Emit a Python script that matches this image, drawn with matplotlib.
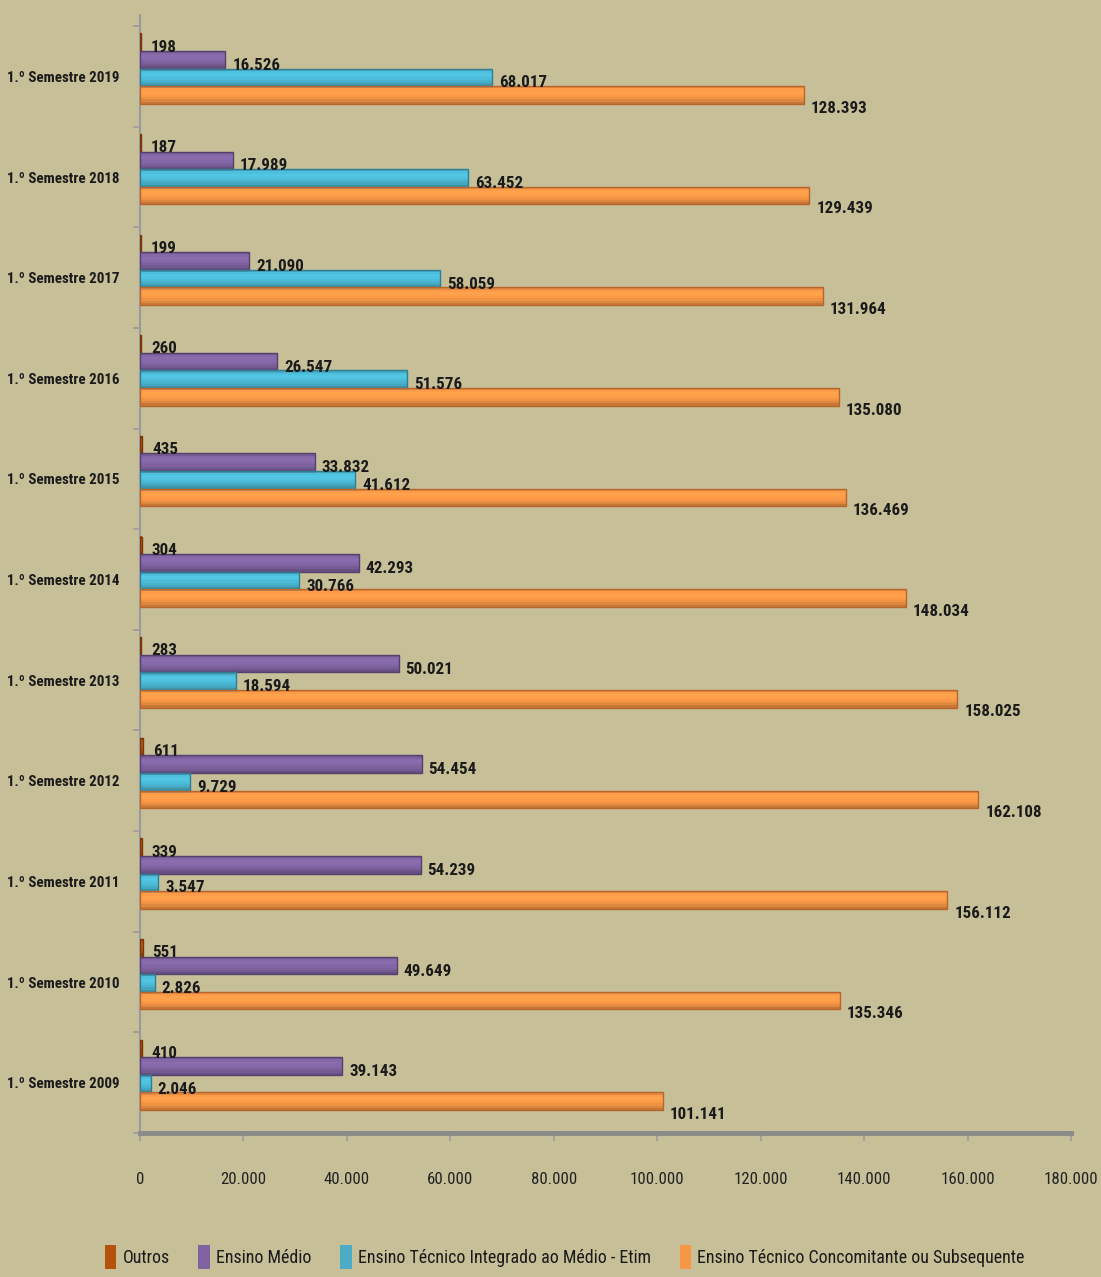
import matplotlib
matplotlib.use("Agg")
import matplotlib.pyplot as plt
from matplotlib import font_manager
from matplotlib.font_manager import FontProperties
from matplotlib.textpath import TextPath
from matplotlib.patches import Patch
from matplotlib.colors import to_rgb
import numpy as np

# data (top to bottom: 2019 ... 2009)
semestres = ["1.º Semestre 2019", "1.º Semestre 2018", "1.º Semestre 2017",
             "1.º Semestre 2016", "1.º Semestre 2015", "1.º Semestre 2014",
             "1.º Semestre 2013", "1.º Semestre 2012", "1.º Semestre 2011",
             "1.º Semestre 2010", "1.º Semestre 2009"]
outros = [198, 187, 199, 260, 435, 304, 283, 611, 339, 551, 410]
ensino_medio = [16526, 17989, 21090, 26547, 33832, 42293, 50021, 54454, 54239, 49649, 39143]
etim = [68017, 63452, 58059, 51576, 41612, 30766, 18594, 9729, 3547, 2826, 2046]
concomitante = [128393, 129439, 131964, 135080, 136469, 148034, 158025, 162108, 156112, 135346, 101141]
x_ticks = [0, 20000, 40000, 60000, 80000, 100000, 120000, 140000, 160000, 180000]

series_names = ["Outros", "Ensino Médio", "Ensino Técnico Integrado ao Médio - Etim",
                "Ensino Técnico Concomitante ou Subsequente"]
series_vals = [outros, ensino_medio, etim, concomitante]
colors = ["#b5520c", "#8064a2", "#4bb8d4", "#f79646"]
edges = ["#7a3608", "#55406f", "#2f7f94", "#b8642a"]
legend_colors = ["#b5520c", "#8064a2", "#4bacc6", "#f79646"]


def pick_font():
    # prefer a narrow/condensed family if there is one
    names = set()
    for f in font_manager.fontManager.ttflist:
        low = f.name.lower()
        if "narrow" in low or "condensed" in low:
            names.add((f.name, "normal"))
        elif f.stretch in ("condensed", "semi-condensed", "extra-condensed",
                           "ultra-condensed"):
            names.add((f.name, f.stretch))
    for pref in ["Liberation Sans Narrow", "Roboto Condensed", "Open Sans Condensed",
                 "Noto Sans Condensed", "DejaVu Sans Condensed"]:
        for nm, st in names:
            if nm == pref:
                return nm, st
    if names:
        return sorted(names)[0]
    return "Liberation Sans", "normal"


FONT, STRETCH = pick_font()
plt.rcParams["font.family"] = [FONT, "DejaVu Sans"]
plt.rcParams["font.stretch"] = STRETCH


def fit_size(text, target_px, weight="normal", max_pt=20):
    fp = FontProperties(family=FONT, stretch=STRETCH, weight=weight, size=10)
    w = TextPath((0, 0), text, size=10, prop=fp).get_extents().width
    size = 10 * target_px / (w * 100 / 72)
    return min(size, max_pt)


cat_size = fit_size("1.º Semestre 2019", 111, "bold", 15)
val_size = fit_size("16.526", 46, "bold", 15)
tick_size = fit_size("20.000", 44, "normal", 14)
leg_size = fit_size("Ensino Médio", 93, "normal", 18)

BG = "#c6bf98"
fig = plt.figure(figsize=(11.01, 12.77), dpi=100, facecolor=BG)
ax = fig.add_axes([140 / 1101, 1 - 1133 / 1277, 931 / 1101, 1118 / 1277])
ax.set_facecolor(BG)

n = len(semestres)
y = np.arange(n)[::-1]  # 2019 at top
h = 0.175
offsets = [0.34, 0.165, -0.01, -0.185]
# label offsets in points (dx, dy)
lab_off = [(7, -3.5), (5, -4), (5, -4), (5, -9.5)]
# brightness profile of the "cylinder" from top to bottom
profile = [0.92, 1.04, 1.08, 1.06, 1.02, 0.97, 0.9, 0.8]
ns = len(profile)

for i, (vals, off) in enumerate(zip(series_vals, offsets)):
    yy = y + off
    base = np.array(to_rgb(colors[i]))
    for k, fct in enumerate(profile):
        c = np.clip(base * fct, 0, 1)
        yc = yy + h / 2 - (k + 0.5) * h / ns
        ax.barh(yc, vals, height=h / ns * 1.05, color=c, linewidth=0, zorder=3)
    ax.barh(yy, vals, height=h, facecolor="none", edgecolor=edges[i],
            linewidth=1.0, zorder=3.2)
    for yv, v in zip(yy, vals):
        ax.annotate(f"{v:,}".replace(",", "."), xy=(v, yv),
                    xytext=lab_off[i], textcoords="offset points",
                    ha="left", va="center", fontsize=val_size, fontweight="bold",
                    color="#1a1a1a", zorder=4)

ax.set_xlim(0, 180000)
ax.set_ylim(-0.5, 10.61)

ax.set_xticks(x_ticks)
ax.set_xticklabels([f"{t:,}".replace(",", ".") for t in x_ticks],
                   fontsize=tick_size, color="#222222")
ax.tick_params(axis="x", direction="out", length=6, color="#9a9a9a",
               width=1.2, pad=22)

ax.set_yticks(y)
ax.set_yticklabels(semestres, fontsize=cat_size, fontweight="bold", color="#1a1a1a")
ax.tick_params(axis="y", length=0, pad=15)
ax.set_yticks(np.arange(-0.5, n, 1.0), minor=True)
ax.tick_params(axis="y", which="minor", direction="out", length=5,
               color="#9a9a9a", width=1.2)

for s in ["top", "right"]:
    ax.spines[s].set_visible(False)
ax.spines["left"].set_color("#9a9a9a")
ax.spines["left"].set_linewidth(1.5)
ax.spines["bottom"].set_color("#8a8a8a")
ax.spines["bottom"].set_linewidth(3.5)

handles = [Patch(facecolor=c, edgecolor="none") for c in legend_colors]
fig.legend(handles, series_names, loc="center", ncol=4,
           bbox_to_anchor=(0.513, 1 - 1257 / 1277), frameon=False,
           fontsize=leg_size, handlelength=0.65, handleheight=1.7,
           handletextpad=0.35, columnspacing=1.6, labelcolor="#1a1a1a")

fig.savefig("out.png", dpi=100, facecolor=BG)
